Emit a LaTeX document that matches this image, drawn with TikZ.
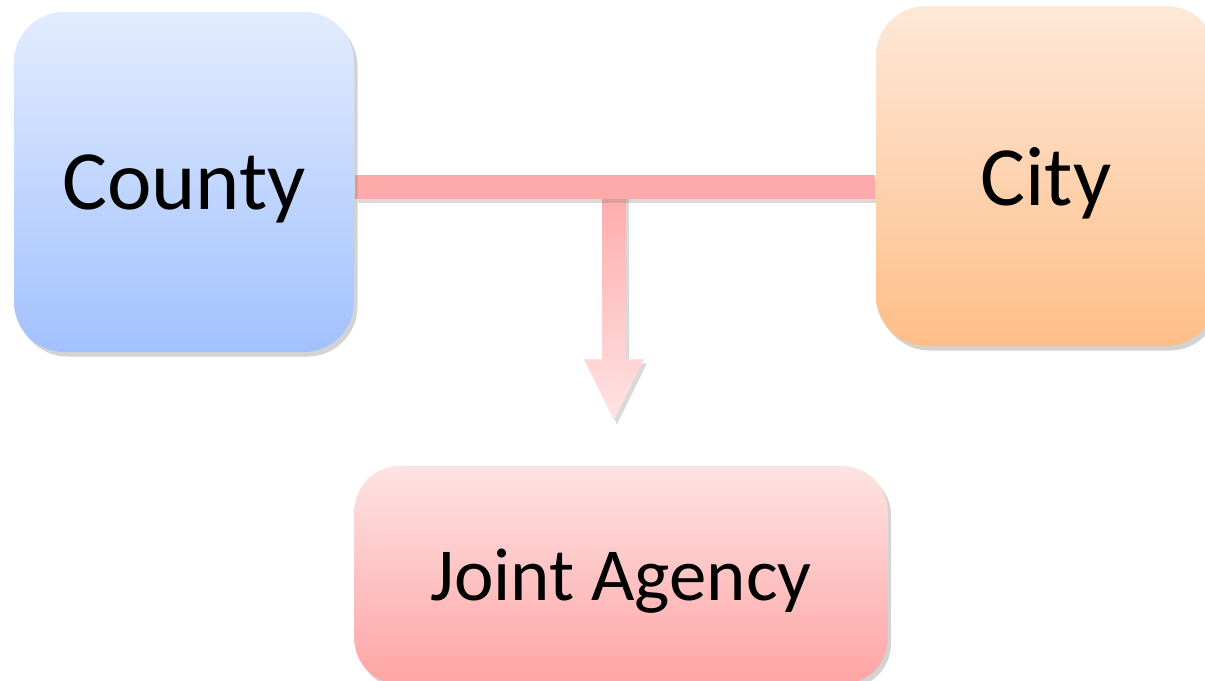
\documentclass[tikz,border=0pt]{standalone}
\usepackage{fontspec}
\setmainfont{Carlito}
\usetikzlibrary{positioning, shadows, calc, backgrounds}
\definecolor{CountyTop}{HTML}{E2ECFE}
\definecolor{CountyBot}{HTML}{A2C1FE}
\definecolor{CityTop}{HTML}{FEE8D8}
\definecolor{CityBot}{HTML}{FEBE88}
\definecolor{JointTop}{HTML}{FDE3E3}
\definecolor{JointBot}{HTML}{FFA4A4}
\definecolor{BarPink}{HTML}{FFAAAA}
\definecolor{ArrowEnd}{HTML}{FFE3E3}
\tikzset{
  boxS/.style={rounded corners=5mm, draw=none, inner sep=0pt, text depth=0pt,
               drop shadow={opacity=0.35, shadow xshift=0.35mm, shadow yshift=-0.45mm}},
  blueB/.style={boxS, minimum width=34mm, minimum height=34mm,
                top color=CountyTop, bottom color=CountyBot,
                font=\fontsize{24}{29}\selectfont},
  orangeB/.style={boxS, minimum width=34mm, minimum height=34mm,
                  top color=CityTop, bottom color=CityBot,
                  font=\fontsize{24}{29}\selectfont},
  redB/.style={boxS, rounded corners=4.5mm, minimum width=53.3mm, minimum height=21.8mm,
               top color=JointTop, bottom color=JointBot,
               font=\fontsize{21.3}{26}\selectfont},
  barF/.style={fill=BarPink,
               drop shadow={opacity=0.3, shadow xshift=0.3mm, shadow yshift=-0.4mm}},
  arrowF/.style={top color=BarPink, bottom color=ArrowEnd,
                 drop shadow={opacity=0.3, shadow xshift=0.3mm, shadow yshift=-0.4mm}},
}
\begin{document}
\begin{tikzpicture}[x=0.1mm, y=-0.1mm]
    \useasboundingbox (0,0) rectangle (1205,680);
    \clip (0,0) rectangle (1205,680);
    %% boxes
    \node[blueB]   (county) at (184,182)  {County};
    \node[orangeB] (city)   at (1046,176) {City};
    \node[redB]    (joint)  at (621,575)  {Joint Agency};
    %% junction and arrow tip
    \coordinate (junc) at (614,187);
    \coordinate (tip) at ($(joint.north)+(-7,-45)$);
    \begin{scope}[on background layer]
      %% down arrow
      \path[arrowF] ($(junc)+(-12,0)$) -- ($(junc)+(12,0)$)
        -- ($(tip)+(12,-61)$) -- ($(tip)+(30,-61)$) -- (tip)
        -- ($(tip)+(-30,-61)$) -- ($(tip)+(-12,-61)$) -- cycle;
      %% bar between county and city
      \path[barF] ($(county.east |- junc)+(0,-12)$) rectangle ($(city.west |- junc)+(0,12)$);
    \end{scope}
\end{tikzpicture}
\end{document}
